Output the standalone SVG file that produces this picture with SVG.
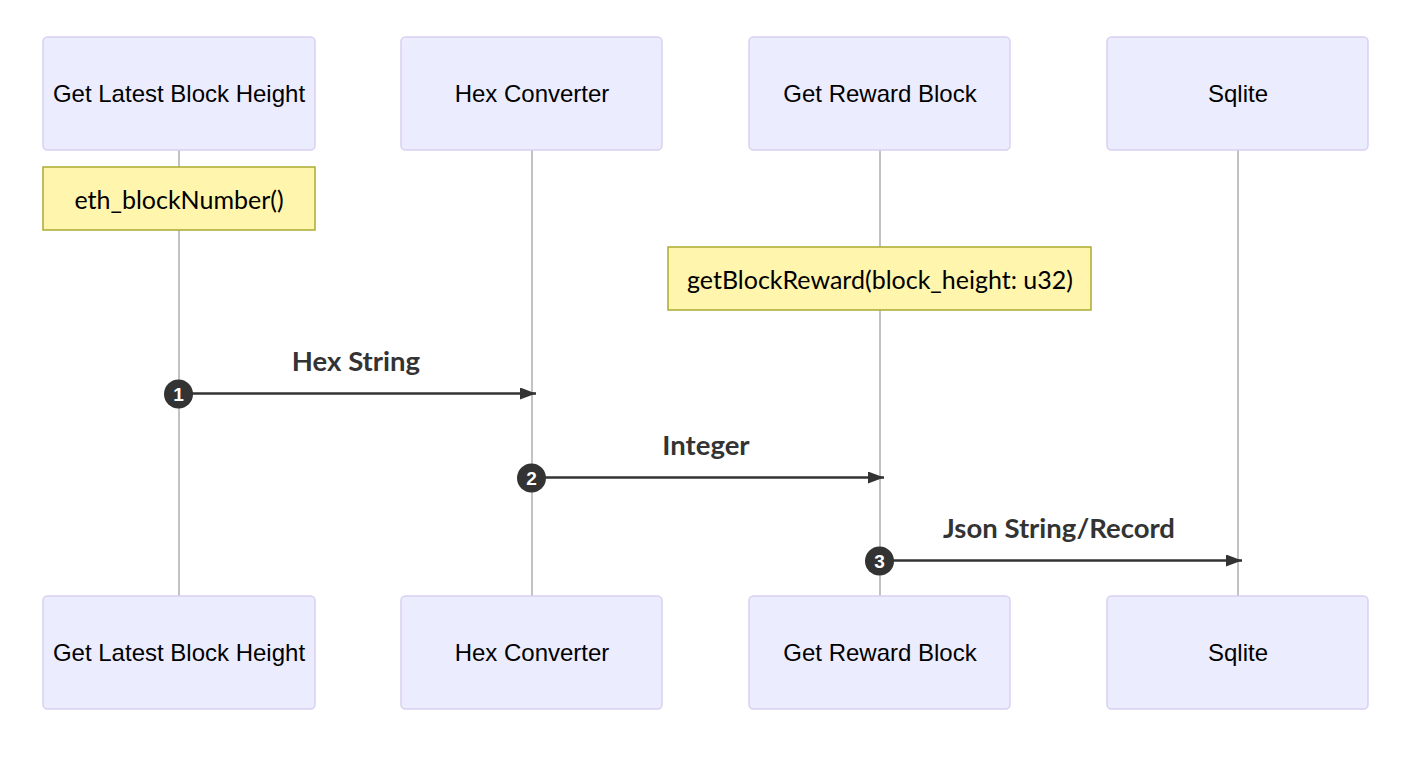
<svg xmlns="http://www.w3.org/2000/svg" width="1414" height="762" viewBox="0 0 1414 762">
<style>
.actor{fill:#ECECFF;stroke:#d8d0f2;stroke-width:1.5}
.atext{font-family:"Liberation Sans",Arial,sans-serif;font-size:24px;fill:#000;text-anchor:middle;dominant-baseline:central}
.life{stroke:#999;stroke-width:1.2}
.note{fill:#fff5ad;stroke:#aaaa33;stroke-width:1.5}
.ntext{font-family:"Lato","Open Sans",sans-serif;font-size:25px;fill:#000;text-anchor:middle;dominant-baseline:central}
.msg{stroke:#333;stroke-width:2.5;fill:none}
.mtext{font-family:"Lato","Open Sans",sans-serif;font-weight:bold;font-size:27.5px;fill:#333;text-anchor:middle}
.seq{fill:#333}
.stext{font-family:"Liberation Sans",Arial,sans-serif;font-weight:bold;font-size:19px;fill:#fff;text-anchor:middle;dominant-baseline:central}
</style>
<defs>
<marker id="arrow" viewBox="0 0 16 12" refX="16" refY="6" markerWidth="16" markerHeight="12" markerUnits="userSpaceOnUse" orient="auto">
<path d="M0,0 L16,6 L0,12 z" fill="#333"/>
</marker>
</defs>
<rect width="1414" height="762" fill="#fff"/>
<g id="lifelines">
<line class="life" x1="179" y1="150" x2="179" y2="596"/>
<line class="life" x1="532" y1="150" x2="532" y2="596"/>
<line class="life" x1="880" y1="150" x2="880" y2="596"/>
<line class="life" x1="1238" y1="150" x2="1238" y2="596"/>
</g>
<g id="actor-glbh-top"><rect class="actor" x="43" y="37" width="272" height="113" rx="4.5"/><text class="atext" x="179" y="93.5">Get Latest Block Height</text></g>
<g id="actor-hex-top"><rect class="actor" x="401" y="37" width="261" height="113" rx="4.5"/><text class="atext" x="532" y="93.5">Hex Converter</text></g>
<g id="actor-grb-top"><rect class="actor" x="749" y="37" width="261" height="113" rx="4.5"/><text class="atext" x="880" y="93.5">Get Reward Block</text></g>
<g id="actor-sqlite-top"><rect class="actor" x="1107" y="37" width="261" height="113" rx="4.5"/><text class="atext" x="1238" y="93.5">Sqlite</text></g>
<g id="actor-glbh-bottom"><rect class="actor" x="43" y="596" width="272" height="113" rx="4.5"/><text class="atext" x="179" y="652.5">Get Latest Block Height</text></g>
<g id="actor-hex-bottom"><rect class="actor" x="401" y="596" width="261" height="113" rx="4.5"/><text class="atext" x="532" y="652.5">Hex Converter</text></g>
<g id="actor-grb-bottom"><rect class="actor" x="749" y="596" width="261" height="113" rx="4.5"/><text class="atext" x="880" y="652.5">Get Reward Block</text></g>
<g id="actor-sqlite-bottom"><rect class="actor" x="1107" y="596" width="261" height="113" rx="4.5"/><text class="atext" x="1238" y="652.5">Sqlite</text></g>
<g id="note-1"><rect class="note" x="43" y="167" width="272" height="63"/><text class="ntext" x="179" y="198.5">eth_blockNumber()</text></g>
<g id="note-2"><rect class="note" x="668" y="247" width="423" height="63"/><text class="ntext" x="880" y="278.5">getBlockReward(block_height: u32)</text></g>
<g id="connectors">
<line class="msg" x1="179" y1="393.5" x2="536" y2="393.5" marker-end="url(#arrow)"/>
<text class="mtext" x="356" y="371">Hex String</text>
<line class="msg" x1="532" y1="477.5" x2="884" y2="477.5" marker-end="url(#arrow)"/>
<text class="mtext" x="706" y="455">Integer</text>
<line class="msg" x1="880" y1="560.5" x2="1242" y2="560.5" marker-end="url(#arrow)"/>
<text class="mtext" x="1059" y="538">Json String/Record</text>
<circle class="seq" cx="178.5" cy="394" r="14.5"/><text class="stext" x="178.5" y="394">1</text>
<circle class="seq" cx="531.5" cy="478" r="14.5"/><text class="stext" x="531.5" y="478">2</text>
<circle class="seq" cx="879.5" cy="561" r="14.5"/><text class="stext" x="879.5" y="561">3</text>
</g>
</svg>
